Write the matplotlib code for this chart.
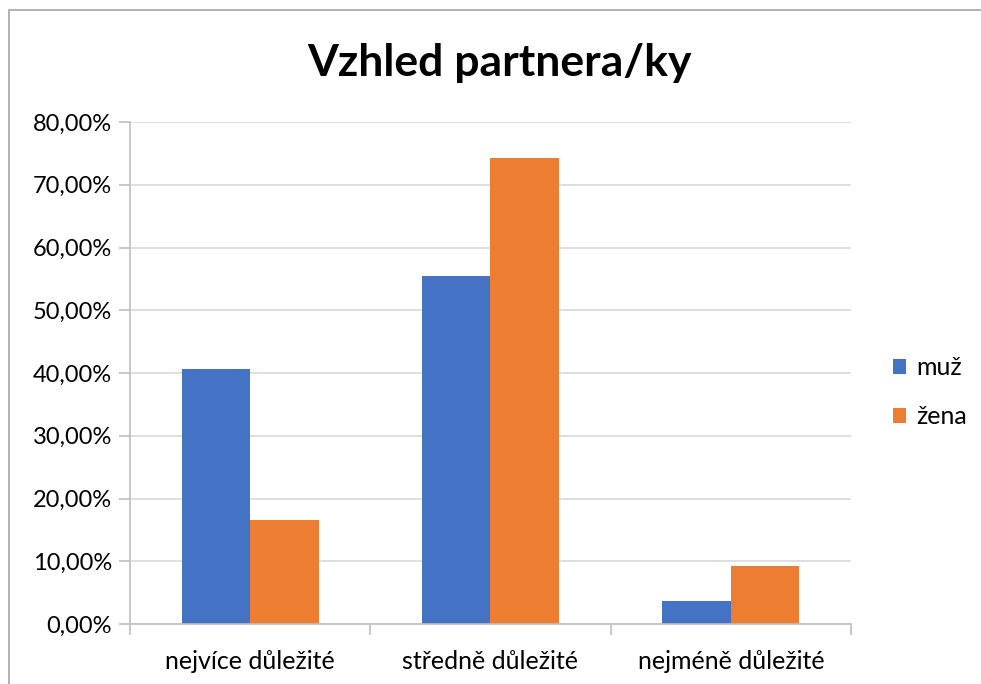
import matplotlib.pyplot as plt
import matplotlib.ticker as mticker
from matplotlib.patches import Rectangle
import numpy as np

# data
categories = ['nejvíce důležité', 'středně důležité', 'nejméně důležité']
muz = [40.7, 55.5, 3.7]
zena = [16.5, 74.2, 9.2]
series_names = ['muž', 'žena']
colors = ['#4472C4', '#ED7D31']

plt.rcParams['font.family'] = ['Lato', 'DejaVu Sans']

W, H = 981, 684
fig = plt.figure(figsize=(W / 100, H / 100), dpi=100)

# chart border
fig.patches.append(Rectangle((9 / W, -0.01), 1.0, (H - 10) / H + 0.01, transform=fig.transFigure,
                             fill=False, edgecolor='#A6A6A6', linewidth=1.2))

ax = fig.add_axes([130 / W, 60 / H, 721 / W, 502 / H])

x = np.arange(len(categories))
bw = 1 / 3.5
ax.bar(x - bw / 2, muz, bw, color=colors[0], label=series_names[0])
ax.bar(x + bw / 2, zena, bw, color=colors[1], label=series_names[1])

ax.set_xlim(-0.5, len(categories) - 0.5)
ax.set_ylim(0, 80)
ax.yaxis.set_major_locator(mticker.MultipleLocator(10))
ax.yaxis.set_major_formatter(mticker.FuncFormatter(lambda v, p: f'{v:.2f}'.replace('.', ',') + '%'))
ax.grid(axis='y', color='#D9D9D9', linewidth=1.2)
ax.set_axisbelow(True)

ax.set_xticks(x)
ax.set_xticklabels(categories)
ax.set_xticks(np.arange(-0.5, len(categories)), minor=True)
ax.tick_params(axis='x', which='major', length=0, pad=19, labelsize=18)
ax.tick_params(axis='x', which='minor', length=8, color='#BFBFBF', width=1.2)
ax.tick_params(axis='y', length=8, color='#BFBFBF', width=1.2, labelsize=17, pad=5)

for s in ['top', 'right']:
    ax.spines[s].set_visible(False)
for s in ['left', 'bottom']:
    ax.spines[s].set_color('#BFBFBF')
    ax.spines[s].set_linewidth(1.2)

fig.text(499 / W, 1 - 63 / H, 'Vzhled partnera/ky', ha='center', va='center',
         fontsize=32, fontweight='bold')

fig.legend(loc='center left', bbox_to_anchor=(870 / W, 1 - 392 / H), frameon=False,
           fontsize=18, handlelength=0.55, handleheight=0.55, handletextpad=0.4,
           labelspacing=1.05)

fig.savefig('out.png', dpi=100)
